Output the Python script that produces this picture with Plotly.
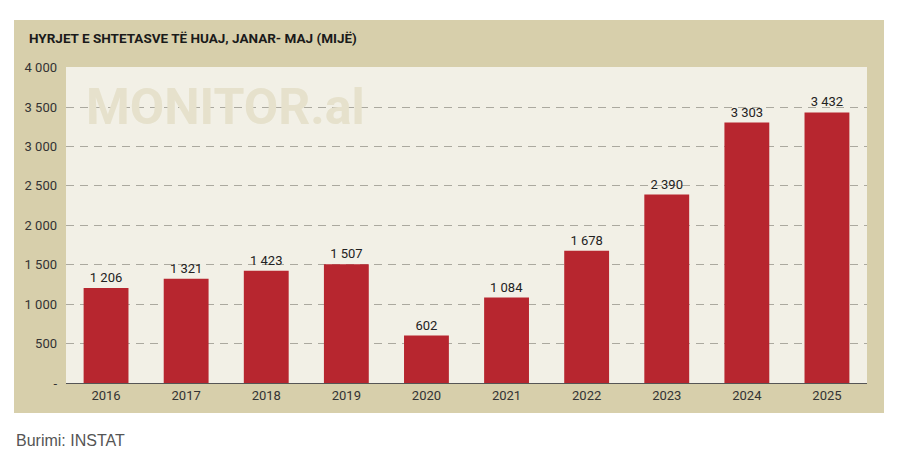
import plotly.graph_objects as go

years = ["2016", "2017", "2018", "2019", "2020", "2021", "2022", "2023", "2024", "2025"]
values = [1206, 1321, 1423, 1507, 602, 1084, 1678, 2390, 3303, 3432]
ytick_vals = [0, 500, 1000, 1500, 2000, 2500, 3000, 3500, 4000]
ytick_text = ["-", "500", "1 000", "1 500", "2 000", "2 500", "3 000", "3 500", "4 000"]
bar_labels = ["{:,}".format(v).replace(",", " ") for v in values]

TAN = "#D7CFAB"
CREAM = "#F2F0E6"
RED = "#B7262F"
COND = "Roboto, Liberation Sans, sans-serif"

fig = go.Figure(go.Bar(
    x=years, y=values, marker_color=RED, marker_line_width=0,
    text=bar_labels, textposition="outside", cliponaxis=False,
    textfont=dict(family=COND, size=13, color="#222"),
))

W, H = 900, 452
L, R, T, B = 66, 33, 67, 69
pw, ph = W - L - R, H - T - B

def px_x(x):
    return (x - L) / pw

def px_y(y):
    return 1 - (y - T) / ph

fig.add_shape(type="rect", xref="paper", yref="paper",
              x0=px_x(14), x1=px_x(884), y0=px_y(413), y1=px_y(20),
              fillcolor=TAN, line_width=0, layer="below")
fig.add_shape(type="rect", xref="paper", yref="paper",
              x0=0, x1=1, y0=0, y1=1,
              fillcolor=CREAM, line_width=0, layer="below")

fig.add_annotation(xref="paper", yref="paper", x=px_x(27), y=px_y(38),
                   xanchor="left", yanchor="middle", showarrow=False,
                   text="<b>HYRJET E SHTETASVE TË HUAJ, JANAR- MAJ (MIJË)</b>",
                   font=dict(family="Roboto, Liberation Sans, sans-serif", size=13.5,
                             color="#1a1a1a"))

fig.add_annotation(xref="paper", yref="paper", x=px_x(84), y=px_y(107),
                   xanchor="left", yanchor="middle", showarrow=False,
                   text="<b>MONITOR.al</b>",
                   font=dict(family="Roboto, Liberation Sans, sans-serif", size=50,
                             color="#E6E1CC"))

fig.add_annotation(xref="paper", yref="paper", x=px_x(14), y=px_y(440),
                   xanchor="left", yanchor="middle", showarrow=False,
                   text="Burimi: INSTAT",
                   font=dict(family="Liberation Sans, Arial, sans-serif", size=16, color="#555"))

fig.update_layout(
    width=W, height=H, margin=dict(l=L, r=R, t=T, b=B, pad=0),
    paper_bgcolor="white", plot_bgcolor=CREAM,
    bargap=0.44, showlegend=False,
    xaxis=dict(showgrid=False, showline=True, linecolor="#555", linewidth=1,
               ticks="", tickfont=dict(family=COND, size=13, color="#333")),
    yaxis=dict(range=[0, 4008], tickvals=ytick_vals, ticktext=ytick_text,
               showgrid=True, gridcolor="#ABA99F", gridwidth=1, griddash="8px,6px",
               zeroline=False, ticks="", ticklabelstandoff=8,
               tickfont=dict(family=COND, size=13, color="#333")),
)

fig.write_html("out.html")
